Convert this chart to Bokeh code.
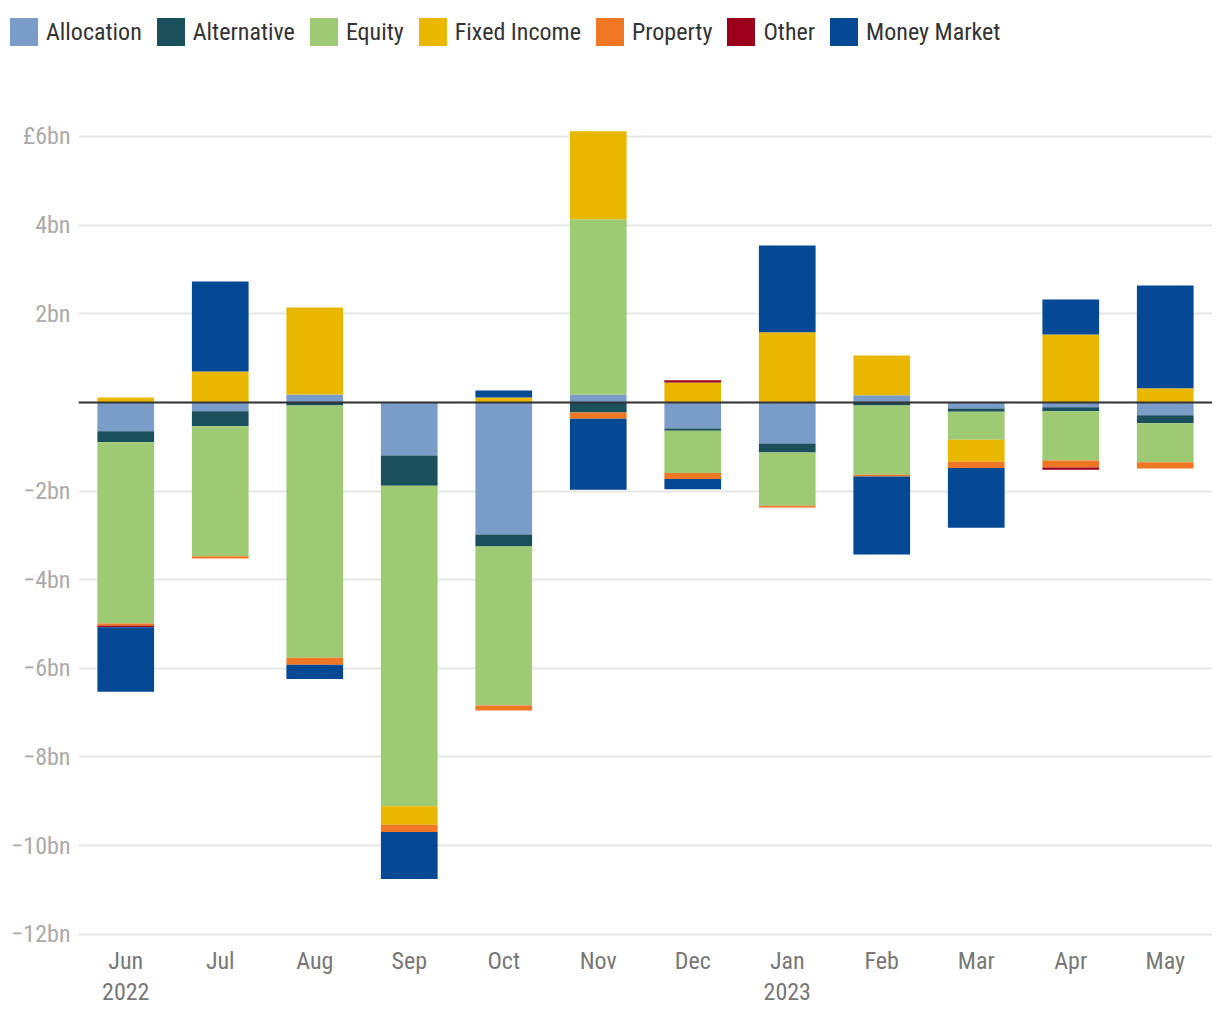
from bokeh.plotting import figure
from bokeh.layouts import column
from bokeh.models import (ColumnDataSource, FactorRange, Range1d, FixedTicker, Legend,
                          LegendItem, Span, CategoricalAxis)
from bokeh.embed import file_html
from bokeh.resources import INLINE

months = ["Jun", "Jul", "Aug", "Sep", "Oct", "Nov", "Dec", "Jan", "Feb", "Mar", "Apr", "May"]
year_labels = ["2022", "", "", "", "", "", "", "2023", "", "", "", ""]

series = ["Allocation", "Alternative", "Equity", "Fixed Income", "Property", "Other", "Money Market"]
colors = ["#7a9cc9", "#1a4f5c", "#9dca72", "#e9b700", "#ef7622", "#9b001a", "#054995"]

allocation   = [-0.65, -0.20, 0.18, -1.20, -2.98, 0.18, -0.59, -0.93, 0.16, -0.14, -0.11, -0.29]
alternative  = [-0.25, -0.34, -0.07, -0.68, -0.27, -0.23, -0.05, -0.20, -0.07, -0.07, -0.09, -0.18]
equity       = [-4.09, -2.93, -5.69, -7.23, -3.59, 3.95, -0.95, -1.20, -1.56, -0.63, -1.11, -0.88]
fixed_income = [0.11, 0.70, 1.96, -0.42, 0.11, 1.99, 0.45, 1.58, 0.90, -0.50, 1.53, 0.32]
property_    = [-0.05, -0.05, -0.16, -0.16, -0.11, -0.14, -0.14, -0.04, -0.04, -0.14, -0.16, -0.14]
other        = [-0.03, 0.0, 0.0, 0.0, 0.0, 0.0, 0.05, 0.0, 0.0, 0.0, -0.05, 0.0]
money_market = [-1.46, 2.03, -0.32, -1.06, 0.16, -1.60, -0.23, 1.96, -1.76, -1.35, 0.79, 2.32]

y_ticks = [-12, -10, -8, -6, -4, -2, 0, 2, 4, 6]
y_tick_labels = ["\u221212bn", "\u221210bn", "\u22128bn", "\u22126bn", "\u22124bn", "\u22122bn", "",
                 "2bn", "4bn", "\u00a36bn"]

values = [allocation, alternative, equity, fixed_income, property_, other, money_market]

data = {"month": months}
pos_keys, neg_keys = [], []
for name, vals in zip(series, values):
    pk, nk = name + "_pos", name + "_neg"
    data[pk] = [max(v, 0.0) for v in vals]
    data[nk] = [min(v, 0.0) for v in vals]
    pos_keys.append(pk)
    neg_keys.append(nk)
source = ColumnDataSource(data)

FONT = "Roboto Condensed, DejaVu Sans Condensed, Roboto"
W = 1212
LEG_H = 60

# ---- legend strip ----
lg = figure(width=W, height=LEG_H, x_range=Range1d(0, 1), y_range=Range1d(0, 1),
            output_backend="svg", toolbar_location=None, frame_align=False,
            min_border_left=0, min_border_right=0, min_border_top=0, min_border_bottom=0)
lg.axis.visible = False
lg.grid.visible = False
lg.outline_line_color = None
offscreen = ColumnDataSource(dict(x=[10.0], top=[1.0]))
dummies = [lg.vbar(x="x", top="top", width=0.1, source=offscreen, color=c, line_width=0)
           for c in colors]
legend = Legend(items=[LegendItem(label=n, renderers=[r]) for n, r in zip(series, dummies)],
                orientation="horizontal", location=(6, 11),
                glyph_width=35, glyph_height=35, label_standoff=5, spacing=11,
                padding=0, margin=0, border_line_color=None, background_fill_alpha=0,
                label_text_font=FONT, label_text_font_size="24px", label_text_color="#333333")
lg.add_layout(legend)

# ---- main chart ----
p = figure(width=W, height=958, x_range=FactorRange(*months, range_padding=0),
           y_range=Range1d(-12.14, 6.36), output_backend="svg", toolbar_location=None,
           frame_align=False,
           min_border_left=78, min_border_right=0, min_border_top=60, min_border_bottom=78)
p.outline_line_color = None

p.vbar_stack(pos_keys, x="month", width=0.6, color=colors, source=source, line_width=0)
p.vbar_stack(neg_keys, x="month", width=0.6, color=colors, source=source, line_width=0)

p.add_layout(Span(location=0, dimension="width", line_color="#333333", line_width=2))

p.xgrid.grid_line_color = None
p.ygrid.grid_line_color = "#e6e6e6"
p.ygrid.grid_line_width = 2

p.yaxis.ticker = FixedTicker(ticks=y_ticks)
p.yaxis.major_label_overrides = {t: l for t, l in zip(y_ticks, y_tick_labels)}
p.yaxis.axis_line_color = None
p.yaxis.major_tick_line_color = None
p.yaxis.minor_tick_line_color = None
p.yaxis.major_tick_out = 0
p.yaxis.major_tick_in = 0
p.yaxis.major_label_text_font = FONT
p.yaxis.major_label_text_font_size = "24px"
p.yaxis.major_label_text_color = "#aaaaaa"
p.yaxis.major_label_standoff = 8

xax = p.xaxis[0]
xax.axis_line_color = None
xax.major_tick_line_color = None
xax.minor_tick_line_color = None
xax.major_tick_out = 0
xax.major_tick_in = 0
xax.major_label_text_font = FONT
xax.major_label_text_font_size = "24px"
xax.major_label_text_color = "#777777"
xax.major_label_standoff = 6

# year labels on a second categorical axis sharing the month positions
year_factors = [lbl if lbl else " " * (i + 1) for i, lbl in enumerate(year_labels)]
p.extra_x_ranges = {"years": FactorRange(*year_factors, range_padding=0)}
yax = CategoricalAxis(x_range_name="years")
yax.axis_line_color = None
yax.major_tick_line_color = None
yax.minor_tick_line_color = None
yax.major_tick_out = 0
yax.major_tick_in = 0
yax.major_label_text_font = FONT
yax.major_label_text_font_size = "24px"
yax.major_label_text_color = "#777777"
yax.major_label_standoff = 0
p.add_layout(yax, "below")

open("out.html", "w").write(file_html(column(lg, p, spacing=0), INLINE))
